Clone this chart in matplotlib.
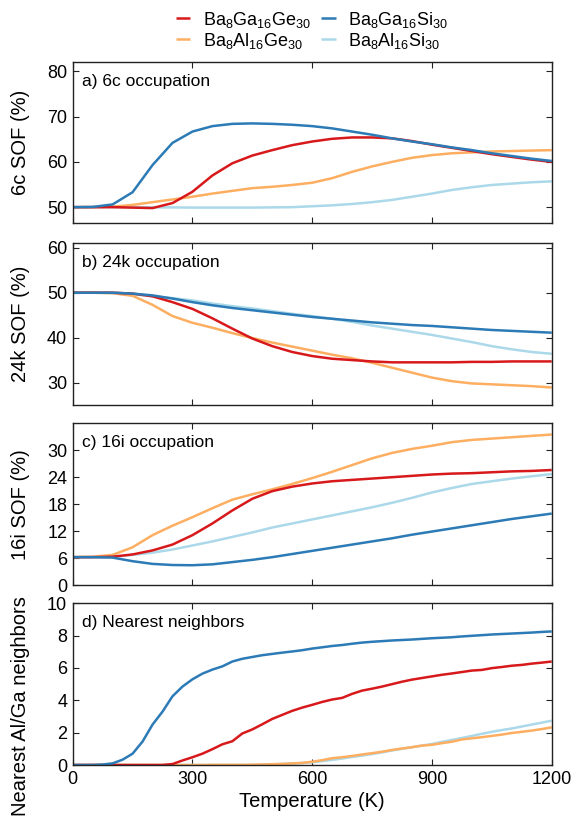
import numpy as np
import matplotlib
matplotlib.use("Agg")
import matplotlib.pyplot as plt

plt.rcParams['font.family'] = ['Liberation Sans', 'DejaVu Sans']
plt.rcParams['mathtext.default'] = 'regular'
plt.rcParams['font.size'] = 12

# ---------------- data ----------------
labels = [r'Ba$_8$Ga$_{16}$Ge$_{30}$', r'Ba$_8$Al$_{16}$Ge$_{30}$',
          r'Ba$_8$Ga$_{16}$Si$_{30}$', r'Ba$_8$Al$_{16}$Si$_{30}$']
colors = ['#d7191c', '#fdae61', '#2c7bb6', '#abd9e9']

T = [0, 50, 100, 150, 200, 250, 300, 350, 400, 450, 500, 550, 600, 650, 700,
     750, 800, 850, 900, 950, 1000, 1050, 1100, 1150, 1200]

# a) 6c SOF (%)
sof6c_GaGe = [50, 50, 50, 49.9, 49.8, 50.9, 53.4, 57.0, 59.7, 61.4, 62.6, 63.7, 64.5,
              65.1, 65.4, 65.4, 65.2, 64.6, 63.8, 63.1, 62.4, 61.7, 61.1, 60.5, 60.0]
sof6c_AlGe = [50, 50, 50.1, 50.5, 51.1, 51.7, 52.3, 53.0, 53.6, 54.2, 54.5, 54.9, 55.4,
              56.4, 57.8, 59.0, 60.0, 60.9, 61.5, 61.9, 62.1, 62.3, 62.4, 62.5, 62.6]
sof6c_GaSi = [50, 50.05, 50.6, 53.3, 59.3, 64.2, 66.7, 67.9, 68.4, 68.5, 68.4, 68.2, 67.9,
              67.4, 66.7, 66.0, 65.2, 64.5, 63.9, 63.2, 62.6, 61.9, 61.3, 60.7, 60.2]
sof6c_AlSi = [50, 50, 50, 50, 49.95, 49.95, 49.9, 49.9, 49.9, 49.9, 49.95, 50.0, 50.2,
              50.4, 50.7, 51.1, 51.6, 52.3, 53.0, 53.8, 54.4, 54.9, 55.2, 55.5, 55.7]

# b) 24k SOF (%)
sof24k_GaGe = [50, 50, 50, 49.8, 49.2, 47.9, 46.4, 44.3, 42.0, 39.8, 38.1, 36.8, 35.9,
               35.3, 35.0, 34.7, 34.5, 34.5, 34.5, 34.5, 34.6, 34.6, 34.7, 34.7, 34.7]
sof24k_AlGe = [50, 50, 49.9, 49.3, 47.3, 44.8, 43.3, 42.2, 41.0, 39.9, 38.9, 38.0, 37.1,
               36.2, 35.4, 34.4, 33.3, 32.2, 31.1, 30.3, 29.8, 29.6, 29.4, 29.2, 28.9]
sof24k_GaSi = [50, 50, 50, 49.8, 49.4, 48.7, 47.9, 47.2, 46.6, 46.1, 45.6, 45.1, 44.6,
               44.2, 43.8, 43.4, 43.1, 42.8, 42.6, 42.3, 42.0, 41.7, 41.5, 41.3, 41.1]
sof24k_AlSi = [50, 50, 49.9, 49.7, 49.2, 48.8, 48.3, 47.6, 47.0, 46.5, 45.9, 45.3, 44.8,
               44.2, 43.5, 42.7, 42.0, 41.3, 40.6, 39.8, 39.0, 38.1, 37.4, 36.8, 36.4]

# c) 16i SOF (%)
sof16i_GaGe = [6.2, 6.2, 6.3, 6.8, 7.7, 9.0, 11.1, 13.7, 16.6, 19.2, 20.9, 21.9, 22.6,
               23.1, 23.4, 23.7, 24.0, 24.3, 24.6, 24.8, 24.9, 25.1, 25.3, 25.4, 25.6]
sof16i_AlGe = [6.2, 6.3, 6.7, 8.4, 11.1, 13.2, 15.1, 17.1, 19.0, 20.2, 21.3, 22.5, 23.8,
               25.2, 26.7, 28.2, 29.4, 30.3, 31.0, 31.8, 32.3, 32.6, 32.9, 33.2, 33.5]
sof16i_GaSi = [6.2, 6.2, 6.1, 5.3, 4.7, 4.45, 4.4, 4.6, 5.1, 5.6, 6.2, 6.9, 7.6,
               8.3, 9.0, 9.7, 10.4, 11.2, 11.9, 12.6, 13.3, 14.0, 14.7, 15.3, 15.9]
sof16i_AlSi = [6.2, 6.2, 6.3, 6.7, 7.2, 7.9, 8.8, 9.7, 10.7, 11.7, 12.8, 13.7, 14.6,
               15.5, 16.4, 17.3, 18.3, 19.4, 20.6, 21.6, 22.5, 23.1, 23.7, 24.2, 24.7]

# d) Nearest Al/Ga neighbors
T_nn = list(range(0, 1201, 25))
nn_GaGe = [0, 0, 0, 0, 0, 0, 0, 0, 0, 0, 0.06, 0.28, 0.48, 0.7, 0.98, 1.28, 1.47,
           1.95, 2.2, 2.52, 2.85, 3.1, 3.35, 3.55, 3.72, 3.9, 4.05, 4.15, 4.4, 4.6,
           4.72, 4.85, 5.0, 5.15, 5.28, 5.38, 5.48, 5.58, 5.66, 5.75, 5.84, 5.88,
           5.99, 6.06, 6.14, 6.19, 6.27, 6.33, 6.4]
nn_AlGe = [0, 0, 0, 0, 0, 0, 0, 0, 0, 0, 0, 0, 0, 0, 0.01, 0.01, 0.01, 0.01,
           0.02, 0.03, 0.05, 0.07, 0.1, 0.13, 0.2, 0.3, 0.42, 0.48, 0.56, 0.65,
           0.73, 0.82, 0.93, 1.02, 1.1, 1.2, 1.25, 1.35, 1.44, 1.58, 1.65, 1.72,
           1.8, 1.88, 1.98, 2.05, 2.13, 2.22, 2.33]
nn_GaSi = [0, 0, 0, 0.03, 0.1, 0.33, 0.7, 1.45, 2.5, 3.3, 4.25, 4.85, 5.3, 5.65,
           5.9, 6.1, 6.4, 6.57, 6.68, 6.79, 6.87, 6.95, 7.02, 7.1, 7.2, 7.28, 7.36,
           7.42, 7.5, 7.57, 7.62, 7.66, 7.7, 7.73, 7.76, 7.8, 7.84, 7.87, 7.9, 7.95,
           7.99, 8.03, 8.07, 8.1, 8.13, 8.16, 8.19, 8.23, 8.26]
nn_AlSi = [0, 0, 0, 0, 0, 0, 0, 0, 0, 0, 0, 0, 0, 0, 0, 0, 0, 0, 0, 0.02, 0.04,
           0.06, 0.09, 0.12, 0.17, 0.24, 0.32, 0.4, 0.5, 0.58, 0.68, 0.78, 0.9, 1.0,
           1.1, 1.2, 1.3, 1.43, 1.55, 1.67, 1.8, 1.93, 2.05, 2.16, 2.26, 2.38, 2.5,
           2.62, 2.74]

xticks = [0, 300, 600, 900, 1200]

# ---------------- figure ----------------
fig = plt.figure(figsize=(5.76, 8.25), dpi=100)
W, H = 576, 825
left, right = 72.7, 551.7
panels_px = [(62.3, 223), (243.3, 405), (423.3, 585), (603.3, 765)]
axes = []
for top, bot in panels_px:
    ax = fig.add_axes([left / W, 1 - bot / H, (right - left) / W, (bot - top) / H])
    axes.append(ax)

panel_data = [
    (T, [sof6c_GaGe, sof6c_AlGe, sof6c_GaSi, sof6c_AlSi], (46.5, 82), [50, 60, 70, 80],
     '6c SOF (%)', 'a) 6c occupation'),
    (T, [sof24k_GaGe, sof24k_AlGe, sof24k_GaSi, sof24k_AlSi], (25, 61), [30, 40, 50, 60],
     '24k SOF (%)', 'b) 24k occupation'),
    (T, [sof16i_GaGe, sof16i_AlGe, sof16i_GaSi, sof16i_AlSi], (0, 36), [0, 6, 12, 18, 24, 30],
     '16i SOF (%)', 'c) 16i occupation'),
    (T_nn, [nn_GaGe, nn_AlGe, nn_GaSi, nn_AlSi], (0, 10), [0, 2, 4, 6, 8, 10],
     'Nearest Al/Ga neighbors', 'd) Nearest neighbors'),
]

order = [3, 1, 0, 2]  # draw light lines first
for i, (ax, (x, ys, ylim, yt, ylab, tag)) in enumerate(zip(axes, panel_data)):
    handles = [None] * 4
    for k in order:
        h, = ax.plot(x, ys[k], color=colors[k], lw=1.8, label=labels[k],
                     solid_capstyle='butt')
        handles[k] = h
    ax.set_xlim(0, 1200)
    ax.set_ylim(*ylim)
    ax.set_xticks(xticks)
    ax.set_yticks(yt)
    ax.tick_params(direction='in', length=4, width=0.8, top=True, right=True,
                   labelsize=13, pad=4, colors='#222222', labelcolor='black')
    for s in ax.spines.values():
        s.set_linewidth(1.0)
        s.set_color('#222222')
    ax.set_ylabel(ylab, fontsize=14.5)
    ax.yaxis.set_label_coords(-0.09, 0.5)
    ax.text(0.019, 0.925, tag, transform=ax.transAxes, ha='left', va='top', fontsize=12.5)
    if i < 3:
        ax.tick_params(labelbottom=False)
    else:
        ax.set_xlabel('Temperature (K)', fontsize=14.5, labelpad=3)

axes[3].yaxis.set_label_coords(-0.09, 0.365)

cx = (left + right) / 2 / W
fig.legend(handles, labels, loc='upper center', bbox_to_anchor=(cx, 1.008), ncol=2,
           frameon=False, fontsize=13, handlelength=0.8, handletextpad=0.7,
           columnspacing=0.55, labelspacing=0.05)

fig.savefig('out.png', dpi=100)
